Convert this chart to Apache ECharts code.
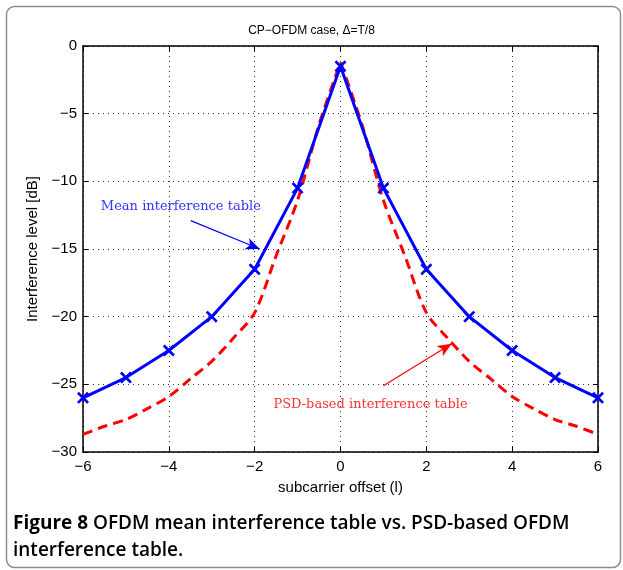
<!DOCTYPE html>
<html>
<head>
<meta charset="utf-8">
<script src="https://cdn.jsdelivr.net/npm/echarts@6/dist/echarts.min.js"></script>
<style>
  html, body { margin: 0; padding: 0; background: #fff; }
  #chart { width: 623px; height: 570px; }
</style>
</head>
<body>
<div id="chart"></div>
<script>
var chartDom = document.getElementById('chart');
var myChart = echarts.init(chartDom);
var option;

// subcarrier offsets and the mean interference table (blue, with markers)
var offsets = [-6, -5, -4, -3, -2, -1, 0, 1, 2, 3, 4, 5, 6];
var meanTable = [-26, -24.5, -22.5, -20, -16.5, -10.5, -1.5, -10.5, -16.5, -20, -22.5, -24.5, -26];

// PSD-based table (red dashed), read at half-subcarrier steps
var psdOffsets = [-6, -5.5, -5, -4.5, -4, -3.5, -3, -2.5, -2, -1.5, -1, -0.5, 0,
                  0.5, 1, 1.5, 2, 2.5, 3, 3.5, 4, 4.5, 5, 5.5, 6];
var psdTable = [-28.7, -28.1, -27.6, -26.8, -25.9, -24.6, -23.3, -21.6, -19.7, -15.5, -11.4, -5.8, -1.2,
                -5.8, -11.4, -15.5, -19.7, -21.6, -23.3, -24.6, -25.9, -26.8, -27.6, -28.1, -28.7];

var cross = 'path://M0,1.6L1.6,0L5,3.4L8.4,0L10,1.6L6.6,5L10,8.4L8.4,10L5,6.6L1.6,10L0,8.4L3.4,5Z';
var minus = function (v) { return String(v).replace('-', '\u2212'); };
var axisFont = { fontFamily: 'Liberation Sans', fontSize: 15, color: '#000' };

// the red curve is drawn as two smooth halves so the peak stays sharp
var peak = psdOffsets.indexOf(0);
var psdPairs = psdOffsets.map(function (x, i) { return [x, psdTable[i]]; });
var psdStyle = { color: '#ff0000', width: 3, type: [10, 6] };

option = {
  animation: false,
  title: {
    text: 'CP\u2212OFDM case, \u0394=T/8',
    left: 'center',
    top: 20,
    textStyle: { fontFamily: 'Liberation Sans', fontSize: 12, fontWeight: 'normal', color: '#000' }
  },
  grid: { left: 83, right: 25, top: 46, bottom: 118 },
  xAxis: [
    {
      type: 'value', min: -6, max: 6, interval: 2,
      name: 'subcarrier offset (l)', nameLocation: 'middle', nameGap: 28,
      nameTextStyle: axisFont,
      axisLine: { onZero: false, lineStyle: { color: '#000', width: 1.5 } },
      axisTick: { inside: true, length: 5, lineStyle: { color: '#000' } },
      axisLabel: Object.assign({ margin: 7, formatter: minus }, axisFont),
      splitLine: { show: true, lineStyle: { color: '#333', type: [1, 4], width: 1 } }
    },
    {
      type: 'value', min: -6, max: 6, interval: 2, position: 'top',
      axisLine: { onZero: false, lineStyle: { color: '#000', width: 1.5 } },
      axisTick: { inside: true, length: 5, lineStyle: { color: '#000' } },
      axisLabel: { show: false }, splitLine: { show: false }
    }
  ],
  yAxis: [
    {
      type: 'value', min: -30, max: 0, interval: 5,
      name: 'Interference level [dB]', nameLocation: 'middle', nameGap: 35,
      nameTextStyle: axisFont,
      axisLine: { onZero: false, lineStyle: { color: '#000', width: 1.5 } },
      axisTick: { inside: true, length: 5, lineStyle: { color: '#000' } },
      axisLabel: Object.assign({ margin: 6, formatter: minus }, axisFont),
      splitLine: { show: true, lineStyle: { color: '#333', type: [1, 4], width: 1 } }
    },
    {
      type: 'value', min: -30, max: 0, interval: 5, position: 'right',
      axisLine: { onZero: false, lineStyle: { color: '#000', width: 1.5 } },
      axisTick: { inside: true, length: 5, lineStyle: { color: '#000' } },
      axisLabel: { show: false }, splitLine: { show: false }
    }
  ],
  series: [
    {
      name: 'PSD-based interference table',
      type: 'line',
      data: psdPairs.slice(0, peak + 1),
      showSymbol: false,
      smooth: 0.3,
      lineStyle: psdStyle,
      z: 3,
      markLine: {
        silent: true,
        symbol: ['none', 'arrow'],
        symbolSize: [9, 14],
        label: { show: false },
        lineStyle: { color: '#ff0000', width: 1.2, type: 'solid' },
        data: [[{ coord: [1.0, -25.1] }, { coord: [2.59, -22.0] }]]
      }
    },
    {
      name: 'PSD-based interference table',
      type: 'line',
      data: psdPairs.slice(peak),
      showSymbol: false,
      smooth: 0.3,
      lineStyle: psdStyle,
      z: 3
    },
    {
      name: 'Mean interference table',
      type: 'line',
      data: offsets.map(function (x, i) { return [x, meanTable[i]]; }),
      symbol: cross,
      symbolSize: 12,
      itemStyle: { color: '#0000ff' },
      lineStyle: { color: '#0000ff', width: 3 },
      z: 4,
      markLine: {
        silent: true,
        symbol: ['none', 'arrow'],
        symbolSize: [9, 14],
        label: { show: false },
        lineStyle: { color: '#0000ff', width: 1.2, type: 'solid' },
        data: [[{ coord: [-3.49, -12.9] }, { coord: [-1.88, -15.0] }]]
      }
    }
  ],
  graphic: [
    {
      id: 'frame', type: 'rect', left: 4, top: 4, z: -10,
      shape: { width: 614, height: 561, r: 8 },
      style: { fill: 'none', stroke: '#8c8c8c', lineWidth: 1.5 }
    },
    {
      id: 'caption', type: 'text', left: 13, top: 510,
      style: {
        text: '{b|Figure 8} OFDM mean interference table vs. PSD-based OFDM\ninterference table.',
        rich: {
          b: { fontFamily: 'Open Sans', fontWeight: 'bold', fontSize: 19, fill: '#000' }
        },
        fontFamily: 'Open Sans', fontSize: 19, fontWeight: 600, fill: '#000', lineHeight: 27
      }
    }
  ]
};

myChart.setOption(option);

// annotation texts placed at data coordinates
var blueAt = myChart.convertToPixel({ xAxisIndex: 0, yAxisIndex: 0 }, [-3.72, -11.9]);
var redAt = myChart.convertToPixel({ xAxisIndex: 0, yAxisIndex: 0 }, [0.7, -26.5]);
myChart.setOption({
  graphic: [
    {
      id: 'blueNote', type: 'text', x: blueAt[0], y: blueAt[1],
      style: { text: 'Mean interference table', fontFamily: 'DejaVu Serif', fontSize: 13,
               fill: '#3333ff', align: 'center', verticalAlign: 'middle' }
    },
    {
      id: 'redNote', type: 'text', x: redAt[0], y: redAt[1],
      style: { text: 'PSD-based interference table', fontFamily: 'DejaVu Serif', fontSize: 13,
               fill: '#ff3333', align: 'center', verticalAlign: 'middle' }
    }
  ]
});
</script>
</body>
</html>
